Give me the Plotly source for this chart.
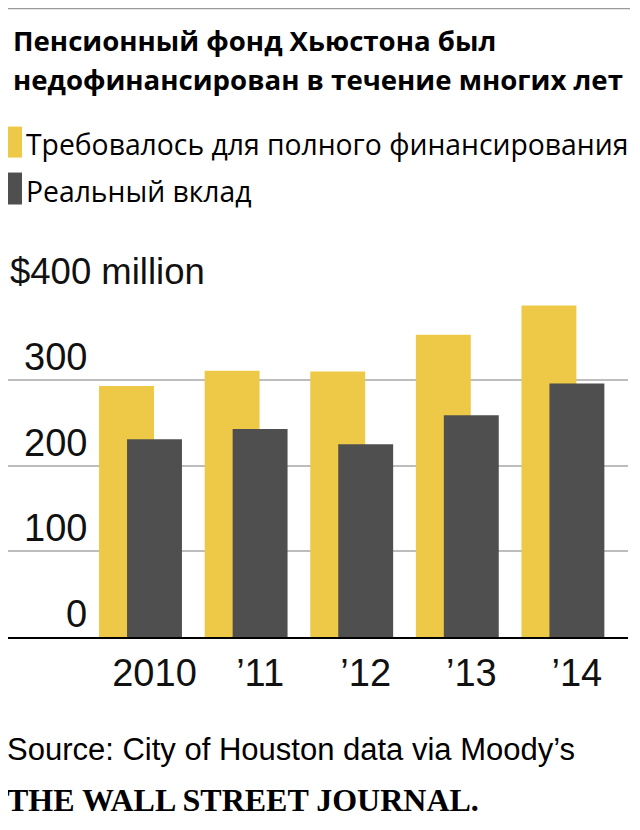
import plotly.graph_objects as go

# data ($ millions)
years = ["2010", "’11", "’12", "’13", "’14"]
required = [293, 311, 310, 353, 387]
actual = [231, 243, 225, 259, 296]

y_tick_vals = [0, 100, 200, 300, 400]
y_tick_text = ["0", "100", "200", "300", "$400 million"]

series_names = ["Требовалось для полного финансирования", "Реальный вклад"]
title_lines = ["Пенсионный фонд Хьюстона был", "недофинансирован в течение многих лет"]
source_text = "Source: City of Houston data via Moody’s"
credit_text = "THE WALL STREET JOURNAL."

YELLOW = "#edc947"
DARK = "#4f4f4f"
GRID = "#bdbdbd"

# the page body adds an 8px margin, so the figure is shrunk by that much
# and every position below is given in window pixels, then shifted
OFF = 8
W, H = 640 - OFF, 830 - OFF
PLOT_L, PLOT_R = 8, 628          # window px
PLOT_TOP, PLOT_BOTTOM = 293.6, 637
plot_w = PLOT_R - PLOT_L
plot_h = PLOT_BOTTOM - PLOT_TOP

SANS = "Liberation Sans, Arial, sans-serif"
HUMAN = "Open Sans, Noto Sans, sans-serif"


def px_x(px):
    return (px - PLOT_L) / plot_w


def px_y(py):
    return (PLOT_BOTTOM - py) / plot_h


fig = go.Figure()
fig.add_trace(go.Bar(
    x=years, y=required, name=series_names[0],
    marker=dict(color=YELLOW, line=dict(width=0)),
    width=0.52, offset=-0.525,
    hovertemplate="%{x}: $%{y}M<extra></extra>",
))
fig.add_trace(go.Bar(
    x=years, y=actual, name=series_names[1],
    marker=dict(color=DARK, line=dict(width=0)),
    width=0.52, offset=-0.26,
    hovertemplate="%{x}: $%{y}M<extra></extra>",
))

annotations = []
# y labels sit above their gridlines
for v, t in zip(y_tick_vals, y_tick_text):
    if v == 400:
        pos = dict(x=px_x(OFF), xanchor="left", font=dict(family=SANS, size=36.5, color="#111"))
    else:
        pos = dict(x=px_x(89), xanchor="right", font=dict(family=SANS, size=38, color="#111"))
    annotations.append(dict(
        **pos, y=v, yref="y", yanchor="middle", yshift=23, text=t,
        xref="paper", showarrow=False,
    ))

# title
for line, cy in zip(title_lines, [39.5, 78.5]):
    annotations.append(dict(
        x=px_x(11), xanchor="left", y=px_y(cy), yanchor="middle",
        xref="paper", yref="paper", showarrow=False, text=f"<b>{line}</b>",
        font=dict(family=HUMAN, size=27.6, color="#000"),
    ))

# legend
for name, cy in zip(series_names, [143, 190]):
    annotations.append(dict(
        x=px_x(24), xanchor="left", y=px_y(cy), yanchor="middle",
        xref="paper", yref="paper", showarrow=False, text=name,
        font=dict(family=HUMAN, size=28.3, color="#000"),
    ))

annotations.append(dict(
    x=px_x(5), xanchor="left", y=px_y(749.5), yanchor="middle",
    xref="paper", yref="paper", showarrow=False, text=source_text,
    font=dict(family=SANS, size=31, color="#000"),
))
annotations.append(dict(
    x=px_x(5), xanchor="left", y=px_y(800.5), yanchor="middle",
    xref="paper", yref="paper", showarrow=False, text=f"<b>{credit_text}</b>",
    font=dict(family="Liberation Serif, Times New Roman, serif", size=32, color="#000"),
))

shapes = [
    # thin rule along the top
    dict(type="line", xref="paper", yref="paper", x0=px_x(OFF), x1=px_x(630),
         y0=px_y(7.5), y1=px_y(7.5), line=dict(color="#9a9a9a", width=2)),
    # legend swatches
    dict(type="rect", xref="paper", yref="paper", x0=px_x(OFF), x1=px_x(22),
         y0=px_y(157), y1=px_y(126), fillcolor=YELLOW, line=dict(width=0)),
    dict(type="rect", xref="paper", yref="paper", x0=px_x(OFF), x1=px_x(22),
         y0=px_y(204), y1=px_y(172), fillcolor=DARK, line=dict(width=0)),
]

# dark bar centres sit at 154.5 + 105.6*i window px
x_lo = (PLOT_L - 154.5) / 105.6
x_hi = (PLOT_R - 154.5) / 105.6

fig.update_layout(
    width=W, height=H,
    margin=dict(l=PLOT_L - OFF, r=640 - PLOT_R, t=PLOT_TOP - OFF,
                b=830 - PLOT_BOTTOM, pad=0),
    paper_bgcolor="white", plot_bgcolor="white",
    barmode="overlay", showlegend=False,
    annotations=annotations, shapes=shapes,
    xaxis=dict(
        type="category", range=[x_lo, x_hi],
        showgrid=False, showline=True, linecolor="#000", linewidth=2,
        ticks="", tickfont=dict(family=SANS, size=38, color="#111"),
        ticklabelstandoff=1, fixedrange=True,
    ),
    yaxis=dict(
        range=[0, 400.5], tickvals=y_tick_vals[1:], showticklabels=False,
        showgrid=True, gridcolor=GRID, gridwidth=2, zeroline=False,
        showline=False, ticks="", fixedrange=True,
    ),
)

fig.write_html("out.html")
